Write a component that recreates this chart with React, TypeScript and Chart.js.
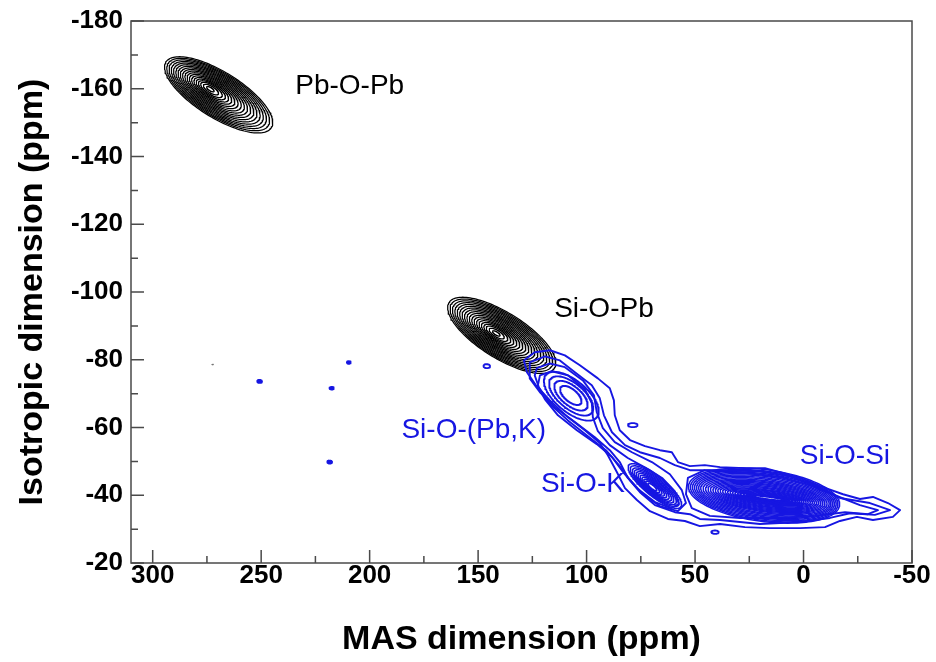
import React, { useEffect, useRef } from "react";
import { Chart, registerables } from "chart.js";
Chart.register(...registerables);

const FONT = "'Liberation Sans', Arial, Helvetica, sans-serif";
const BLUE = "rgb(22,22,226)";

// ---- axes (ppm) ----
const xMin = -50;
const xMax = 310;
const yMin = -180;
const yMax = -20;
const xMajorTicks = [300, 250, 200, 150, 100, 50, 0, -50];
const xMinorTicks = [275, 225, 175, 125, 75, 25, -25];
const yMajorTicks = [-180, -160, -140, -120, -100, -80, -60, -40, -20];
const yMinorTicks = [-170, -150, -130, -110, -90, -70, -50, -30];

// ---- nested (elliptic) contour families, ppm ----
// Pb-O-Pb (black)
const pbOuterCenter = [269.6, -158.2];
const pbInnerCenter = [273.7, -160.0];
const pbMajor = [-24.3, 9.7];
const pbMinor = [5.6, 5.7];
const pbLevels = [1, 0.95, 0.9, 0.85, 0.8, 0.75, 0.7, 0.65, 0.6, 0.55, 0.5, 0.45, 0.4, 0.35, 0.3, 0.25, 0.2, 0.14, 0.07];

// Si-O-Pb (black)
const spOuterCenter = [139.1, -87.2];
const spInnerCenter = [141.8, -87.8];
const spMajor = [-24.3, 9.7];
const spMinor = [5.6, 5.7];
const spLevels = [1, 0.95, 0.9, 0.85, 0.8, 0.75, 0.7, 0.65, 0.6, 0.55, 0.5, 0.45, 0.4, 0.35, 0.3, 0.25, 0.2, 0.14, 0.07];

// Si-O-(Pb,K) (blue)
const skpOuterCenter = [107.0, -69.2];
const skpInnerCenter = [107.4, -69.6];
const skpMajor = [-12.8, 6.8];
const skpMinor = [5.0, 3.9];
const skpLevels = [0.92, 0.74, 0.56, 0.36];

// Si-O-K (blue)
const skOuterCenter = [68.5, -42.7];
const skInnerCenter = [69.9, -42.4];
const skMajor = [-12.0, 6.2];
const skMinor = [2.9, 2.3];
const skLevels = [1, 0.91, 0.82, 0.74, 0.66, 0.58, 0.5, 0.42, 0.34, 0.26, 0.17];

// Si-O-Si (blue)
const ssOuterCenter = [18.2, -39.9];
const ssInnerCenter = [15.5, -38.9];
const ssMajor = [-34.8, 2.9];
const ssMinor = [1.4, 7.6];
const ssLevelsMajor = [1, 0.975, 0.95, 0.925, 0.9, 0.875, 0.85, 0.82, 0.79, 0.76, 0.73, 0.7, 0.67, 0.64, 0.61, 0.58, 0.55, 0.52, 0.49, 0.46, 0.43, 0.4, 0.37, 0.33, 0.29, 0.25];
const ssLevelsMinor = [1, 0.95, 0.9, 0.85, 0.8, 0.75, 0.7, 0.65, 0.6, 0.56, 0.52, 0.48, 0.44, 0.4, 0.36, 0.32, 0.28, 0.25, 0.22, 0.19, 0.16, 0.13, 0.1, 0.08, 0.06, 0.04];

// ---- irregular blue contours (ppm: [MAS, isotropic]) ----
const contourOuter = [
  [128.9, -79.8], [123.9, -82.2], [116.9, -82.8], [110.0, -81.3], [103.1, -78.4], [94.8, -74.5], [89.3, -71.6],
  [87.4, -68.0], [87.0, -63.6], [84.7, -59.2], [80.0, -56.3], [73.1, -54.5], [66.2, -53.3], [60.7, -52.7],
  [57.9, -49.8], [52.4, -48.6], [45.5, -48.9], [38.5, -48.3], [27.0, -48.0], [17.8, -48.0], [10.9, -46.8],
  [1.6, -45.1], [-7.6, -42.7], [-18.2, -40.3], [-26.0, -38.9], [-32.0, -39.5], [-38.9, -37.7], [-44.5, -35.6],
  [-41.2, -33.6], [-32.0, -32.7], [-24.6, -33.6], [-16.8, -32.4], [-9.9, -30.6], [1.6, -30.3], [15.5, -30.3],
  [27.0, -30.6], [38.5, -31.5], [47.8, -30.9], [54.7, -32.4], [62.5, -33.0], [70.8, -35.3], [76.8, -38.6],
  [82.3, -42.1], [86.0, -46.8], [90.2, -51.8], [93.9, -55.4], [100.8, -59.2], [108.6, -63.0], [116.9, -68.0],
  [123.4, -72.5], [127.5, -76.3],
];
const contourSecond = [
  [126.2, -79.2], [119.2, -81.0], [112.3, -79.8], [105.4, -76.3], [97.6, -72.5], [93.9, -68.6], [92.0, -63.6],
  [88.3, -58.6], [82.3, -54.8], [75.4, -52.7], [66.2, -51.0], [59.3, -48.9], [52.4, -47.4], [38.5, -47.4],
  [20.1, -47.1], [6.3, -45.6], [-5.3, -43.0], [-16.8, -39.2], [-30.6, -37.7], [-39.9, -35.6], [-32.9, -34.2],
  [-21.4, -34.7], [-12.2, -33.3], [1.6, -32.1], [20.1, -31.5], [38.5, -32.7], [47.8, -33.0], [52.4, -34.4],
  [59.3, -35.0], [68.5, -37.1], [75.4, -40.9], [81.0, -45.1], [84.7, -49.8], [89.3, -53.3], [96.2, -57.1],
  [105.4, -61.6], [114.6, -66.0], [121.5, -70.4], [126.2, -74.5],
];
const contourRidge = [
  [122.9, -77.5], [116.9, -78.9], [110.0, -77.8], [101.7, -73.9], [96.6, -69.5], [95.3, -64.5], [92.5, -59.8],
  [87.0, -55.7], [79.1, -52.7], [69.9, -49.8], [61.6, -46.2], [56.1, -41.5], [54.2, -37.7], [57.9, -35.3],
  [66.2, -36.8], [74.0, -40.3], [80.0, -44.5], [85.1, -48.9], [91.1, -53.3], [99.4, -57.4], [108.6, -62.1],
  [116.9, -66.9], [122.0, -71.9], [123.9, -75.4],
];
const contourRidgeInner = [
  [121.5, -75.4], [116.0, -76.6], [108.6, -75.4], [100.8, -71.3], [97.6, -67.2], [97.1, -63.0], [94.8, -58.9],
  [89.3, -54.8], [81.0, -51.0], [71.7, -47.7], [65.2, -45.1], [59.3, -41.1], [57.5, -37.4], [61.1, -36.2],
  [68.5, -38.0], [76.8, -42.1], [82.8, -46.5], [88.3, -51.3], [95.3, -55.1], [104.5, -59.2], [113.2, -63.6],
  [119.2, -68.3], [122.5, -72.2],
];
const contourSiOSi = [
  [53.3, -45.1], [45.5, -47.4], [29.3, -46.8], [10.9, -45.4], [-3.0, -43.0], [-14.5, -40.0], [-26.0, -37.1],
  [-34.3, -35.6], [-29.7, -34.4], [-19.1, -35.0], [-5.3, -33.9], [10.9, -33.3], [29.3, -33.3], [43.2, -33.9],
  [51.5, -36.2], [54.2, -40.3],
];

// isolated small blue spots
const dotX = [250.7, 209.6, 217.5, 218.4, 146.0, 78.7, 40.8];
const dotY = [-73.6, -79.2, -71.6, -49.8, -78.1, -60.7, -29.1];
const dotRx = [1.1, 0.9, 1.0, 1.1, 1.5, 2.2, 1.7];
const dotRy = [0.45, 0.4, 0.4, 0.45, 0.6, 0.6, 0.5];
const grayDot = [272.3, -78.6];

// peak labels
const peakLabels = ["Pb-O-Pb", "Si-O-Pb", "Si-O-(Pb,K)", "Si-O-K", "Si-O-Si"];
const labelX = [209.2, 92.0, 152.0, 101.7, -19.1];
const labelY = [-161.4, -95.7, -59.8, -43.9, -52.1];
const labelColor = ["#000", "#000", BLUE, BLUE, BLUE];

type P = { x: number; y: number };

function ellipse(cx: number, cy: number, ax: number, ay: number, bx: number, by: number, n = 140): P[] {
  const pts: P[] = [];
  for (let i = 0; i <= n + 1; i++) {
    const t = (i / n) * Math.PI * 2;
    pts.push({ x: cx + Math.cos(t) * ax + Math.sin(t) * bx, y: cy + Math.cos(t) * ay + Math.sin(t) * by });
  }
  return pts;
}

function nest(outer: number[], inner: number[], major: number[], minor: number[], lvA: number[], lvB: number[]) {
  return lvA.map((a, i) => {
    const b = lvB[i];
    const cx = inner[0] + (outer[0] - inner[0]) * a;
    const cy = inner[1] + (outer[1] - inner[1]) * a;
    return ellipse(cx, cy, major[0] * a, major[1] * a, minor[0] * b, minor[1] * b);
  });
}

function closed(arr: number[][]): P[] {
  const pts = arr.map(([x, y]) => ({ x, y }));
  pts.push({ ...pts[0] });
  pts.push({ ...pts[1] });
  return pts;
}

function ds(data: P[], color: string, width: number, fillIt = false) {
  return {
    data,
    showLine: true,
    borderColor: color,
    backgroundColor: color,
    borderWidth: width,
    borderJoinStyle: "round",
    borderCapStyle: "round",
    pointRadius: 0,
    pointHoverRadius: 0,
    fill: fillIt ? "shape" : false,
    tension: 0,
  };
}

const framePlugin = {
  id: "frameTicks",
  afterDatasetsDraw(chart: any) {
    const { ctx, chartArea: a, scales } = chart;
    const xs = scales.x;
    const ys = scales.y;
    ctx.save();
    ctx.strokeStyle = "#4a4a4a";
    ctx.lineWidth = 1.5;
    ctx.strokeRect(a.left, a.top, a.right - a.left, a.bottom - a.top);
    ctx.beginPath();
    xMajorTicks.forEach((v) => {
      const p = xs.getPixelForValue(v);
      ctx.moveTo(p, a.bottom);
      ctx.lineTo(p, a.bottom - 13);
    });
    xMinorTicks.forEach((v) => {
      const p = xs.getPixelForValue(v);
      ctx.moveTo(p, a.bottom);
      ctx.lineTo(p, a.bottom - 7);
    });
    yMajorTicks.forEach((v) => {
      const p = ys.getPixelForValue(v);
      ctx.moveTo(a.left, p);
      ctx.lineTo(a.left + 13, p);
    });
    yMinorTicks.forEach((v) => {
      const p = ys.getPixelForValue(v);
      ctx.moveTo(a.left, p);
      ctx.lineTo(a.left + 7, p);
    });
    ctx.stroke();

    // peak labels
    ctx.font = `28px ${FONT}`;
    ctx.textAlign = "center";
    ctx.textBaseline = "alphabetic";
    peakLabels.forEach((t, i) => {
      ctx.fillStyle = labelColor[i];
      ctx.fillText(t, xs.getPixelForValue(labelX[i]), ys.getPixelForValue(labelY[i]) + 10);
    });
    ctx.restore();
  },
};

export default function App() {
  const ref = useRef<HTMLCanvasElement | null>(null);
  useEffect(() => {
    if (!ref.current) return;
    const datasets: any[] = [];
    // blue irregular contours
    [contourOuter, contourSecond, contourRidge, contourRidgeInner, contourSiOSi].forEach((c) =>
      datasets.push(ds(closed(c), BLUE, 1.9))
    );
    // blue nests
    nest(skpOuterCenter, skpInnerCenter, skpMajor, skpMinor, skpLevels, skpLevels).forEach((d) => datasets.push(ds(d, BLUE, 1.9)));
    nest(skOuterCenter, skInnerCenter, skMajor, skMinor, skLevels, skLevels).forEach((d) => datasets.push(ds(d, BLUE, 1.5)));
    nest(ssOuterCenter, ssInnerCenter, ssMajor, ssMinor, ssLevelsMajor, ssLevelsMinor).forEach((d) => datasets.push(ds(d, BLUE, 1.5)));
    // dots
    dotX.forEach((x, i) => datasets.push(ds(ellipse(x, dotY[i], dotRx[i], 0, 0, dotRy[i], 30), BLUE, 1.8, i < 4)));
    datasets.push(ds(ellipse(grayDot[0], grayDot[1], 0.3, 0, 0, 0.15, 12), "#777", 1));
    // black nests
    nest(spOuterCenter, spInnerCenter, spMajor, spMinor, spLevels, spLevels).forEach((d) => datasets.push(ds(d, "#000", 1.25)));
    nest(pbOuterCenter, pbInnerCenter, pbMajor, pbMinor, pbLevels, pbLevels).forEach((d) => datasets.push(ds(d, "#000", 1.25)));

    const chart = new Chart(ref.current, {
      type: "scatter",
      data: { datasets },
      options: {
        animation: false,
        responsive: false,
        maintainAspectRatio: false,
        events: [],
        layout: { padding: { left: 0, right: 24, top: 20, bottom: 0 } },
        plugins: { legend: { display: false }, tooltip: { enabled: false } },
        scales: {
          x: {
            type: "linear",
            min: xMin,
            max: xMax,
            reverse: true,
            grid: { display: false, drawTicks: false },
            border: { display: false },
            afterBuildTicks: (s: any) => {
              s.ticks = xMajorTicks.map((v) => ({ value: v }));
            },
            afterFit: (s: any) => {
              s.height = 99;
            },
            ticks: {
              color: "#000",
              padding: 0,
              maxRotation: 0,
              autoSkip: false,
              font: { family: FONT, size: 26, weight: "bold", lineHeight: 1 },
              callback: (v: any) => String(v),
            },
            title: {
              display: true,
              text: "MAS dimension (ppm)",
              color: "#000",
              font: { family: FONT, size: 34, weight: "bold", lineHeight: 1.2 },
              padding: { top: 0, bottom: 2 },
            },
          },
          y: {
            type: "linear",
            min: yMin,
            max: yMax,
            reverse: true,
            grid: { display: false, drawTicks: false },
            border: { display: false },
            afterBuildTicks: (s: any) => {
              s.ticks = yMajorTicks.map((v) => ({ value: v }));
            },
            afterFit: (s: any) => {
              s.width = 131;
            },
            ticks: {
              color: "#000",
              padding: 8,
              autoSkip: false,
              font: { family: FONT, size: 26, weight: "bold", lineHeight: 1 },
              callback: (v: any) => String(v),
            },
            title: {
              display: true,
              text: "Isotropic dimension (ppm)",
              color: "#000",
              font: { family: FONT, size: 34, weight: "bold", lineHeight: 1.2 },
              padding: { top: 12, bottom: 0 },
            },
          },
        },
      },
      plugins: [framePlugin],
    });
    return () => chart.destroy();
  }, []);

  return (
    <div style={{ position: "fixed", left: 0, top: 0, width: 936, height: 662, background: "#fff" }}>
      <canvas ref={ref} width={936} height={662} style={{ display: "block", width: 936, height: 662 }} />
    </div>
  );
}
